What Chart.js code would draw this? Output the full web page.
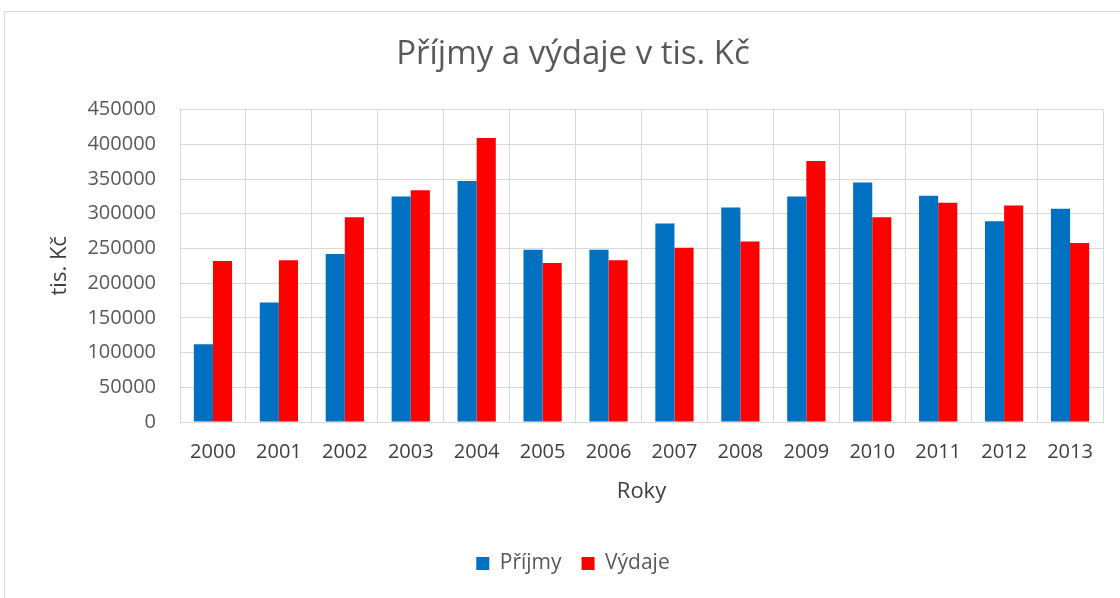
<!DOCTYPE html>
<html>
<head>
<meta charset="utf-8">
<script src="https://cdn.jsdelivr.net/npm/chart.js@4/dist/chart.umd.min.js"></script>
<style>
    html, body { margin: 0; padding: 0; background: #ffffff; }
    #wrap { width: 1120px; height: 598px; }
</style>
</head>
<body>
<div id="wrap"><canvas id="chart" width="1120" height="598"></canvas></div>
<script>
// Data
const years = ['2000', '2001', '2002', '2003', '2004', '2005', '2006', '2007', '2008', '2009', '2010', '2011', '2012', '2013'];
const prijmy = [112000, 172000, 242000, 325000, 347000, 248000, 248000, 286000, 309000, 325000, 345000, 326000, 289000, 307000];
const vydaje = [232000, 233000, 295000, 334000, 409000, 229000, 233000, 251000, 260000, 376000, 295000, 316000, 312000, 258000];
const yMin = 0;
const yMax = 450000;
const yStep = 50000;

const FONT = '"Open Sans", "Liberation Sans", sans-serif';

// Outer frame of the chart
const framePlugin = {
    id: 'frame',
    beforeDraw(chart) {
        const ctx = chart.ctx;
        ctx.save();
        ctx.fillStyle = '#ffffff';
        ctx.fillRect(0, 0, chart.width, chart.height);
        ctx.strokeStyle = '#d9d9d9';
        ctx.lineWidth = 1;
        ctx.beginPath();
        ctx.moveTo(4.5, chart.height);
        ctx.lineTo(4.5, 11.5);
        ctx.lineTo(chart.width, 11.5);
        ctx.stroke();
        ctx.restore();
    }
};

const config = {
    type: 'bar',
    data: {
        labels: years,
        datasets: [
            {
                label: 'Příjmy',
                data: prijmy,
                backgroundColor: '#0070C0',
                borderWidth: 0,
                categoryPercentage: 0.58,
                barPercentage: 1.0
            },
            {
                label: 'Výdaje',
                data: vydaje,
                backgroundColor: '#FF0000',
                borderWidth: 0,
                categoryPercentage: 0.58,
                barPercentage: 1.0
            }
        ]
    },
    options: {
        responsive: false,
        animation: false,
        layout: {
            // the original chart box is wider than the picture, so title and legend sit right of centre
            padding: { left: 43, right: 17, top: 11, bottom: 14 }
        },
        plugins: {
            title: {
                display: true,
                text: 'Příjmy a výdaje v tis. Kč',
                color: '#595959',
                font: { family: FONT, size: 33, weight: 'normal' },
                padding: { top: 24, bottom: 35 }
            },
            legend: {
                position: 'bottom',
                labels: {
                    boxWidth: 13,
                    boxHeight: 13,
                    padding: 20,
                    color: '#595959',
                    font: { family: FONT, size: 21 }
                }
            },
            tooltip: { enabled: false }
        },
        scales: {
            x: {
                grid: {
                    color: '#d9d9d9',
                    drawTicks: false,
                    offset: true
                },
                border: { display: true, color: '#d9d9d9' },
                ticks: {
                    color: '#404040',
                    padding: 18,
                    maxRotation: 0,
                    font: { family: FONT, size: 20 }
                },
                title: {
                    display: true,
                    text: 'Roky',
                    color: '#404040',
                    font: { family: FONT, size: 22 },
                    padding: { top: 0, bottom: 28 }
                },
                afterFit(scale) {
                    scale.height = 111;
                }
            },
            y: {
                min: yMin,
                max: yMax,
                grid: {
                    color: '#d9d9d9',
                    drawTicks: false
                },
                border: { display: true, color: '#d9d9d9' },
                ticks: {
                    stepSize: yStep,
                    color: '#595959',
                    padding: 24,
                    font: { family: FONT, size: 20 },
                    callback: function(value) {
                        return String(value);
                    }
                },
                title: {
                    display: true,
                    text: 'tis. Kč',
                    color: '#404040',
                    font: { family: FONT, size: 22 },
                    padding: { top: 4, bottom: 0 }
                },
                afterFit(scale) {
                    scale.width = 137;
                }
            }
        }
    },
    plugins: [framePlugin]
};

new Chart(document.getElementById('chart'), config);
</script>
</body>
</html>
